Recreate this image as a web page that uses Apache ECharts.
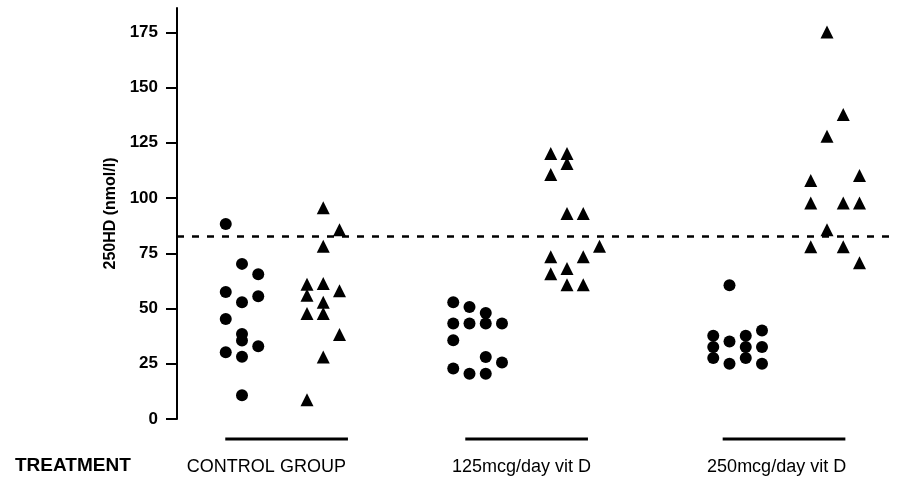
<!DOCTYPE html>
<html><head><meta charset="utf-8">
<script src="https://cdn.jsdelivr.net/npm/echarts@6/dist/echarts.min.js"></script>
<style>html,body{margin:0;padding:0;background:#fff}#c{width:897px;height:477px}</style>
</head><body><div id="c"></div>
<script>
const FONT = "'Liberation Sans', Arial, sans-serif";
const groupNames = ['CONTROL GROUP', '125mcg/day vit D', '250mcg/day vit D'];
const yTicks = [0, 25, 50, 75, 100, 125, 150, 175];
const referenceLevel = 82.7;

// each point: [column slot, 250HD value]
const controlCircles = [[3,88.3],[3,57.5],[3,45.3],[3,30.2],[4,70.2],[4,52.8],[4,38.5],[4,35.5],[4,28.2],[4,10.7],[5,65.5],[5,55.5],[5,32.9]];
const controlTriangles = [[9,95.6],[10,85.6],[9,78.2],[8,61.0],[9,61.3],[8,56.0],[10,58.0],[9,52.8],[8,47.7],[9,47.7],[10,38.2],[9,28.1],[8,8.7]];
const dose125Circles = [[17,52.8],[18,50.7],[19,48.0],[17,43.2],[18,43.2],[19,43.2],[20,43.2],[17,35.6],[19,28.1],[20,25.6],[17,22.9],[18,20.5],[19,20.5]];
const dose125Triangles = [[23,120.2],[24,120.2],[24,115.6],[23,110.6],[24,93.0],[25,93.0],[26,78.2],[23,73.4],[25,73.4],[24,68.1],[23,65.7],[24,60.8],[25,60.8]];
const dose250Circles = [[34,60.5],[33,37.7],[33,32.6],[33,27.6],[34,35.1],[34,25.0],[35,37.7],[35,32.6],[35,27.6],[36,40.1],[36,32.6],[36,25.0]];
const dose250Triangles = [[40,175.1],[41,137.8],[40,128.0],[39,107.9],[42,110.2],[39,97.8],[41,97.8],[42,97.8],[40,85.7],[39,77.9],[41,77.9],[42,70.7]];

// group underline spans (column slots) and label centres
const groupSpans = [[2.97, 10.52], [17.74, 25.29], [33.58, 41.13]];
const groupLabelAt = [5.5, 21.2, 36.9];

const chart = echarts.init(document.getElementById('c'));

function circleSeries(data) {
  return { type: 'scatter', data: data, symbol: 'circle', symbolSize: 12,
    itemStyle: { color: '#000', opacity: 1 }, silent: true, z: 3 };
}
function triSeries(data) {
  return { type: 'scatter', data: data, symbol: 'triangle', symbolSize: 13,
    itemStyle: { color: '#000', opacity: 1 }, silent: true, z: 3 };
}

const series = [
  circleSeries(controlCircles), triSeries(controlTriangles),
  circleSeries(dose125Circles), triSeries(dose125Triangles),
  circleSeries(dose250Circles), triSeries(dose250Triangles)
];
series[0].markLine = {
  silent: true, symbol: 'none', label: { show: false },
  lineStyle: { color: '#000', type: [7, 8], width: 2.7, opacity: 1 },
  data: [{ yAxis: referenceLevel }]
};

chart.setOption({
  animation: false,
  backgroundColor: '#fff',
  grid: { left: 177, right: 5, top: 8, bottom: 58, containLabel: false },
  xAxis: {
    type: 'value', min: 0, max: 44,
    axisLine: { show: false }, axisTick: { show: false }, splitLine: { show: false },
    axisLabel: {
      customValues: groupLabelAt, margin: 39, color: '#000',
      fontFamily: FONT, fontSize: 18,
      formatter: function (v) { const i = groupLabelAt.indexOf(v); return i >= 0 ? groupNames[i] : ''; }
    }
  },
  yAxis: {
    type: 'value', min: 0, max: 186,
    name: '250HD (nmol/l)', nameLocation: 'middle', nameRotate: 90, nameGap: 58,
    nameTextStyle: { color: '#000', fontFamily: FONT, fontSize: 16, fontWeight: 'bold' },
    axisLine: { show: true, lineStyle: { color: '#000', width: 2 } },
    axisTick: { show: true, length: 11, customValues: yTicks, lineStyle: { color: '#000', width: 2 } },
    axisLabel: { customValues: yTicks, margin: 19, color: '#000', fontFamily: FONT, fontSize: 17, fontWeight: 'bold' },
    splitLine: { show: false }
  },
  series: series
});

const ySeg = chart.convertToPixel({ yAxisIndex: 0 }, 0) + 20;
const graphics = groupSpans.map(function (s) {
  return { type: 'line', silent: true,
    shape: { x1: chart.convertToPixel({ xAxisIndex: 0 }, s[0]), y1: ySeg,
             x2: chart.convertToPixel({ xAxisIndex: 0 }, s[1]), y2: ySeg },
    style: { stroke: '#000', lineWidth: 3 } };
});
graphics.push({ type: 'text', silent: true, left: 15, top: 456,
  style: { text: 'TREATMENT', fill: '#000', font: 'bold 19px ' + FONT } });
chart.setOption({ graphic: graphics });
</script>
</body></html>
